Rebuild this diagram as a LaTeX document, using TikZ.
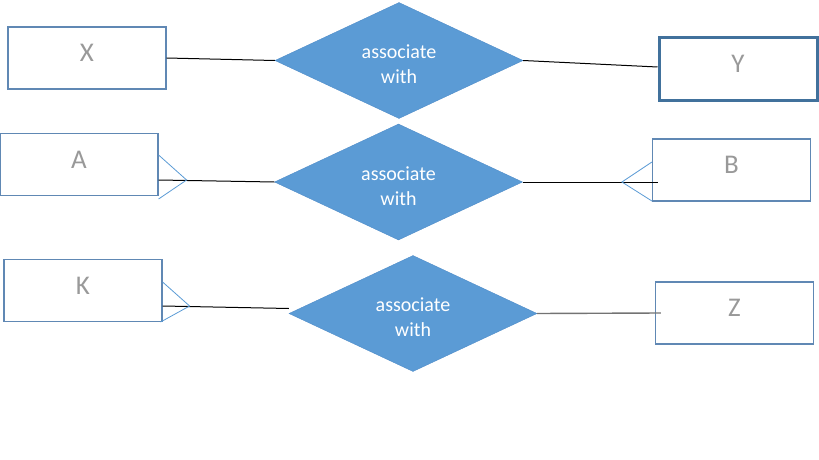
\documentclass[tikz,border=0pt]{standalone}
\usepackage{fontspec}
\setmainfont{Carlito}
\usetikzlibrary{shapes.geometric,calc}
\definecolor{relfill}{HTML}{5B9BD5}
\definecolor{reldraw}{HTML}{4F8CC9}
\definecolor{entdraw}{HTML}{6088B4}
\definecolor{ydraw}{HTML}{41719C}
\newcommand{\relstrut}{\rule{0pt}{22pt}}
\tikzset{
  entity/.style={draw=entdraw,line width=1.2pt,minimum width=158pt,minimum height=62pt,
    inner sep=0pt,text depth=10pt,text=black!40,font=\fontsize{27}{30}\selectfont},
  relation/.style={diamond,aspect=2,draw=reldraw,fill=relfill,minimum width=248pt,minimum height=116pt,
    inner sep=0pt,text=white,align=center,font=\fontsize{20}{25}\selectfont},
  link/.style={line width=1pt,black},
  crow/.style={line width=0.8pt,relfill}
}
\begin{document}
\begin{tikzpicture}[x=1pt,y=-1pt]
		\useasboundingbox (0,0) rectangle (819,460);
		
		\node[entity] (X) at (87,58) {X};
		\node[entity,draw=ydraw,line width=3pt] (Y) at (738,69) {Y};
		\node[entity] (A) at (79,164.5) {A};
		\node[entity] (B) at (731.5,170) {B};
		\node[entity] (K) at (83,290.5) {K};
		\node[entity] (Z) at (734.5,313) {Z};
		
		\node[relation] (r1) at (399,60.5) {\relstrut associate\\with};
		\node[relation] (r2) at (398.5,182) {\relstrut associate\\with};
		\node[relation] (r3) at (413,313.5) {\relstrut associate\\with};
		
		\coordinate (afoot) at ([yshift=-15.5pt]A.east);
		\coordinate (bfoot) at (B.west |- r2.east);
		\coordinate (kfoot) at ([yshift=-15.5pt]K.east);
		
		\draw [link] (X.east) -- (r1.west);
		\draw [link] (r1.east) -- ([yshift=2pt]Y.west);
		\draw [link] (afoot) -- (r2.west);
		\draw [link] (r2.east) -- ([xshift=6pt]bfoot);
		\draw [link] (kfoot) -- ([yshift=5pt]r3.west);
		\draw [link,black!55,line width=1.4pt] (r3.east) -- ([xshift=6pt]Z.west);
		
		\draw [crow] ($(afoot)+(0,-25)$) -- ($(afoot)+(28,0)$) -- ($(afoot)+(0,19)$);
		\draw [crow] ($(bfoot)+(0,-20)$) -- ($(bfoot)+(-30,0)$) -- ($(bfoot)+(0,19)$);
		\draw [crow] ($(kfoot)+(0,-24)$) -- ($(kfoot)+(27,0)$) -- ($(kfoot)+(-2,16)$);
	\end{tikzpicture}
\end{document}
